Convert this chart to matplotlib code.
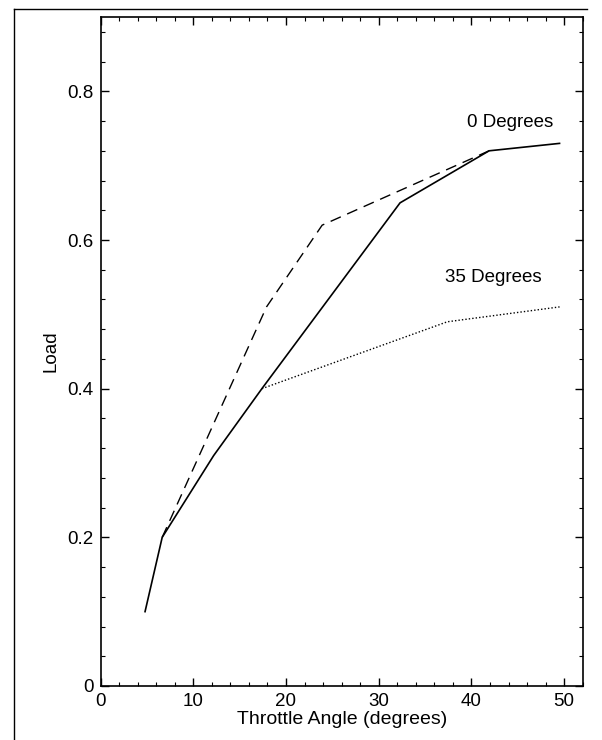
import numpy as np
import matplotlib
matplotlib.use("Agg")
import matplotlib.pyplot as plt
from matplotlib.ticker import MultipleLocator, FuncFormatter
from matplotlib.lines import Line2D

plt.rcParams['font.family'] = ['Liberation Sans', 'DejaVu Sans']

# values
x_zero = [4.8, 6.65, 12.2, 17.4, 32.3, 41.9, 49.5]          # solid
y_zero = [0.10, 0.20, 0.31, 0.40, 0.65, 0.72, 0.73]
x_dash = [6.65, 17.9, 23.9, 41.9]                            # dashed
y_dash = [0.20, 0.51, 0.62, 0.72]
x_35 = [17.4, 37.4, 49.5]                                    # dotted
y_35 = [0.40, 0.49, 0.51]

fig = plt.figure(figsize=(6.02, 7.40), dpi=100)
ax = fig.add_axes([0.167, 0.073, 0.801, 0.904])

ax.plot(x_zero, y_zero, color='black', lw=1.2, ls='-')
ax.plot(x_dash, y_dash, color='black', lw=1.0, ls=(0, (8, 5)))
ax.plot(x_35, y_35, color='black', lw=1.0, ls=(0, (1, 1.5)))

ax.text(44.2, 0.758, '0 Degrees', ha='center', va='center', fontsize=13.5)
ax.text(42.4, 0.549, '35 Degrees', ha='center', va='center', fontsize=13.5)

ax.set_xlim(0, 52)
ax.set_ylim(0, 0.9)
ax.xaxis.set_major_locator(MultipleLocator(10))
ax.xaxis.set_minor_locator(MultipleLocator(2))
ax.yaxis.set_major_locator(MultipleLocator(0.2))
ax.yaxis.set_minor_locator(MultipleLocator(0.04))
ax.yaxis.set_major_formatter(FuncFormatter(lambda v, p: '0' if abs(v) < 1e-9 else f'{v:.1f}'))
ax.tick_params(which='both', direction='in', top=True, right=True, labelsize=13.5, pad=5)
ax.tick_params(which='major', length=6, width=1)
ax.tick_params(which='minor', length=3, width=0.8)
for s in ax.spines.values():
    s.set_linewidth(1.2)

ax.set_xlabel('Throttle Angle (degrees)', fontsize=14, labelpad=1)
ax.set_ylabel('Load', fontsize=13.5)
ax.yaxis.set_label_coords(-0.085, 0.5)

# border of the scanned page
fig.add_artist(Line2D([0.023, 0.023], [0, 0.988], transform=fig.transFigure, color='black', lw=1))
fig.add_artist(Line2D([0.023, 0.975], [0.988, 0.988], transform=fig.transFigure, color='black', lw=1))

fig.savefig('out.png', dpi=100)
